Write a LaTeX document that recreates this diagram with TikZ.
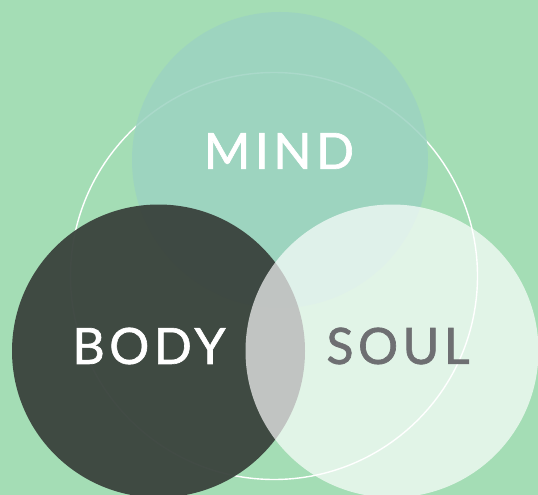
\documentclass[tikz,border=0pt]{standalone}
\usepackage{fontspec}
\setmainfont{Lato}
\newfontfamily\wordfont[LetterSpace=9,FakeBold=1.3]{Lato}
\definecolor{meadow}{RGB}{164,221,181}
\definecolor{mindgreen}{RGB}{156,211,193}
\definecolor{bodydark}{RGB}{59,68,62}
\definecolor{soulgrey}{RGB}{110,111,114}
\tikzset{
  ring/.style={draw=white,line width=1.4pt},
  mindcircle/.style={fill=mindgreen,fill opacity=0.85},
  bodycircle/.style={fill=bodydark,fill opacity=0.96},
  soulcircle/.style={fill=white,fill opacity=0.68},
  word/.style={font=\wordfont\fontsize{50}{50}\selectfont,inner sep=0pt,text=white}
}

\begin{document}
\begin{tikzpicture}[x=1pt,y=-1pt]
  \useasboundingbox (0,0) rectangle (538,495);
  \fill[meadow] (0,0) rectangle (538,495);
  % big outline ring behind the three circles
  \draw[ring] (274,276) circle[radius=203.5pt];
  \fill[mindcircle] (280,160) circle[radius=148pt];
  \fill[bodycircle] (158.5,351) circle[radius=146.5pt];
  \fill[soulcircle] (392,351) circle[radius=146.5pt];
  % labels
  \node[word] (mind) at (279,151) {MIND};
  \node[word] (body) at (149,346) {BODY};
  \node[word,text=soulgrey] (soul) at (398,346) {SOUL};
\end{tikzpicture}
\end{document}
